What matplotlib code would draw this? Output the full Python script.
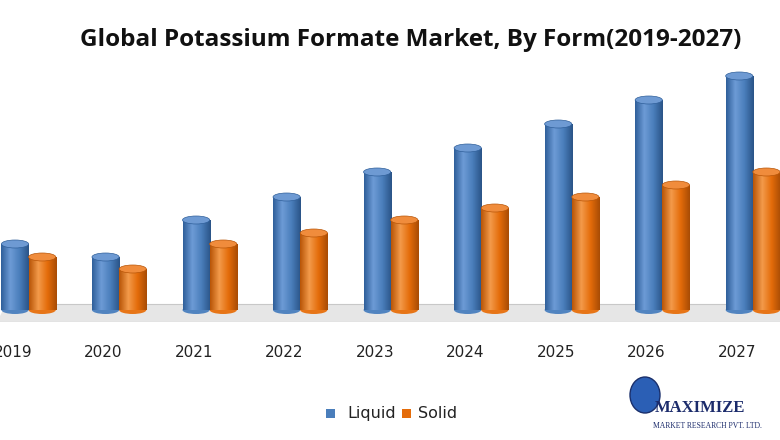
import numpy as np
import matplotlib
matplotlib.use("Agg")
import matplotlib.pyplot as plt
from matplotlib.patches import Rectangle, Ellipse, Polygon
from matplotlib.colors import LinearSegmentedColormap

years = ["2019", "2020", "2021", "2022", "2023", "2024", "2025", "2026", "2027"]
liquid = [66, 53, 90, 113, 138, 162, 186, 210, 234]
solid = [53, 41, 66, 77, 90, 102, 113, 125, 138]
title = "Global Potassium Formate Market, By Form(2019-2027)"

fig = plt.figure(figsize=(7.8, 4.4), dpi=100)
ax = fig.add_axes([0, 1 - 322 / 440, 1, (322 - 60) / 440])
ax.axis("off")

floor = Polygon([(-0.2, -12), (8.5, -12), (8.5, 6), (-0.1, 6)], closed=True,
                facecolor="#e6e6e6", edgecolor="none", zorder=0)
ax.add_patch(floor)
ax.plot([-0.1, 8.5], [6, 6], color="#c8c8c8", lw=0.8, zorder=0)
ax.plot([-0.2, 8.5], [-12, -12], color="#c0c0c0", lw=0.8, zorder=0)

w = 0.3
eh = 8
cm_b = LinearSegmentedColormap.from_list("b", ["#2f5f9a", "#6d9bd6", "#4a7ebb", "#2a5488"])
cm_o = LinearSegmentedColormap.from_list("o", ["#b85507", "#f39a4a", "#e46c0a", "#a84c05"])
grad = np.linspace(0, 1, 64).reshape(1, -1)

def cyl(xc, h, cmap, top):
    r = Rectangle((xc - w / 2, 0), w, h, facecolor="none", edgecolor="none")
    ax.add_patch(r)
    im = ax.imshow(grad, extent=(xc - w / 2, xc + w / 2, 0, h), cmap=cmap,
                   aspect="auto", zorder=2)
    im.set_clip_path(r)
    ax.add_patch(Ellipse((xc, 0), w, eh, facecolor=cmap(0.6), edgecolor="none", zorder=1.9))
    ax.add_patch(Ellipse((xc, h), w, eh, facecolor=top, edgecolor=cmap(0.0), lw=0.5, zorder=3))

for i in range(len(years)):
    cyl(i, liquid[i], cm_b, "#6e9ad3")
    cyl(i + 0.3, solid[i], cm_o, "#f08c3c")
ax.set_xlim(-0.166, 8.45)
ax.set_ylim(-12, 250)

for i, y in enumerate(years):
    fig.text((13 + 90.5 * i) / 780, 1 - 352 / 440, y, ha="center", va="center",
             fontsize=11, fontfamily="DejaVu Sans", color="#222222")

fig.text(411 / 780, 1 - 40 / 440, title, ha="center", va="center",
         fontsize=17.5, fontweight="bold", fontfamily="Open Sans", color="#111111")

fig.patches.append(Rectangle((326 / 780, 1 - 418 / 440), 9 / 780, 9 / 440,
                             transform=fig.transFigure, facecolor="#4a7ebb"))
fig.text(347 / 780, 1 - 413 / 440, "Liquid", va="center", fontsize=11.5, color="#222222")
fig.patches.append(Rectangle((402 / 780, 1 - 418 / 440), 9 / 780, 9 / 440,
                             transform=fig.transFigure, facecolor="#e46c0a"))
fig.text(418 / 780, 1 - 413 / 440, "Solid", va="center", fontsize=11.5, color="#222222")

fig.patches.append(Ellipse((645 / 780, 1 - 395 / 440), 30 / 780, 36 / 440,
                           transform=fig.transFigure, facecolor="#2b5fb5", edgecolor="#1a2f6b"))
fig.text(655 / 780, 1 - 408 / 440, "MAXIMIZE", fontsize=12, fontweight="bold",
         fontfamily="Liberation Serif", color="#1b2b6b", va="center")
fig.text(653 / 780, 1 - 426 / 440, "MARKET RESEARCH PVT. LTD.", fontsize=5.5,
         fontfamily="Liberation Serif", color="#1b2b6b", va="center")

fig.savefig("out.png", dpi=100, facecolor="white")
